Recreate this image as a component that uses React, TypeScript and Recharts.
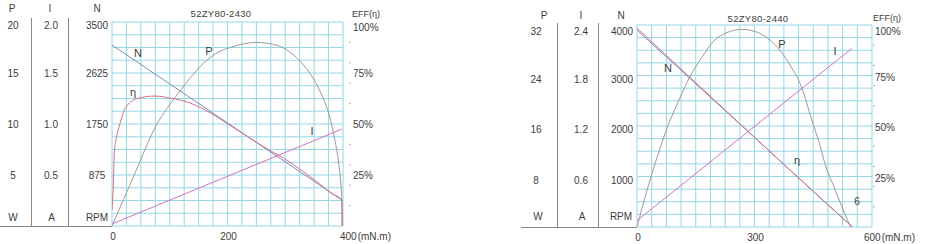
import React from 'react';
import { LineChart, Line, XAxis, YAxis, CartesianGrid } from 'recharts';

const FONT = '"Liberation Sans", Arial, Helvetica, sans-serif';
const TEXT = '#3c3c3c';
const GRID = '#95d6e7';
const C_N = '#7e8cb0';
const C_P = '#9a9a9a';
const C_ETA = '#d46f88';
const C_I = '#cf73c5';

// ---------- shared efficiency axis ----------
const effTicks = [25, 50, 75, 100];
const effLabels = ['25%', '50%', '75%', '100%'];
const effMinor = [10, 20, 30, 40, 60, 70, 80, 90];

// ---------- 52ZY80-2430 ----------
const torqueTicksA = [0, 200, 400];
const torqueLabelsA = ['0', '200', '400'];
const rpmTicksA = [875, 1750, 2625, 3500];
const rpmLabelsA = ['875', '1750', '2625', '3500'];
const powerLabelsA = ['5', '10', '15', '20'];
const currentLabelsA = ['0.5', '1.0', '1.5', '2.0'];

const speedA = [
  { t: 0, v: 3105 },
  { t: 398, v: 446 },
];
const powerA = [
  { t: 0, v: 0 },
  { t: 40, v: 5.2 },
  { t: 77, v: 9.9 },
  { t: 95, v: 11.5 },
  { t: 120, v: 13.4 },
  { t: 152, v: 15.6 },
  { t: 180, v: 16.9 },
  { t: 210, v: 17.6 },
  { t: 250, v: 18.0 },
  { t: 280, v: 17.8 },
  { t: 302, v: 17.3 },
  { t: 325, v: 16.2 },
  { t: 348, v: 14.5 },
  { t: 365, v: 12.6 },
  { t: 377, v: 10.7 },
  { t: 386, v: 8.4 },
  { t: 392, v: 6.4 },
  { t: 396, v: 4.3 },
  { t: 398, v: 2.5 },
  { t: 398.5, v: 0 },
];
const effA = [
  { t: 0, v: 7.8 },
  { t: 2.2, v: 19.3 },
  { t: 4, v: 35.6 },
  { t: 8, v: 43.8 },
  { t: 14, v: 50.3 },
  { t: 22.5, v: 57.5 },
  { t: 45, v: 62.6 },
  { t: 74, v: 63.7 },
  { t: 103, v: 62.6 },
  { t: 132, v: 60.6 },
  { t: 161, v: 56.9 },
  { t: 195, v: 51.1 },
  { t: 253, v: 40.5 },
  { t: 311, v: 30.7 },
  { t: 351, v: 22.5 },
  { t: 380, v: 16.0 },
  { t: 398, v: 12.7 },
  { t: 398.6, v: 0 },
];
const currentA = [
  { t: 0, v: 0.02 },
  { t: 398, v: 0.95 },
];

// ---------- 52ZY80-2440 ----------
const torqueTicksB = [0, 300, 600];
const torqueLabelsB = ['0', '300', '600'];
const rpmTicksB = [1000, 2000, 3000, 4000];
const rpmLabelsB = ['1000', '2000', '3000', '4000'];
const powerLabelsB = ['8', '16', '24', '32'];
const currentLabelsB = ['0.6', '1.2', '1.8', '2.4'];

const speedB = [
  { t: 0, v: 3900 },
  { t: 550, v: 0 },
];
const powerB = [
  { t: 0, v: 0 },
  { t: 25, v: 5.7 },
  { t: 50, v: 10.8 },
  { t: 80, v: 16.2 },
  { t: 110, v: 20.5 },
  { t: 135, v: 23.8 },
  { t: 165, v: 26.8 },
  { t: 195, v: 29.4 },
  { t: 230, v: 30.8 },
  { t: 267, v: 31.3 },
  { t: 300, v: 31.0 },
  { t: 340, v: 29.6 },
  { t: 365, v: 28.0 },
  { t: 395, v: 25.2 },
  { t: 420, v: 22.2 },
  { t: 446, v: 17.0 },
  { t: 465, v: 13.4 },
  { t: 484, v: 9.2 },
  { t: 500, v: 6.8 },
  { t: 514, v: 4.6 },
  { t: 530, v: 2.2 },
  { t: 545, v: 0 },
];
const effB = [
  { t: 0, v: 98.5 },
  { t: 150, v: 71.4 },
  { t: 300, v: 44.4 },
  { t: 450, v: 17.6 },
  { t: 550, v: 0 },
];
const currentB = [
  { t: 0, v: 0.075 },
  { t: 548, v: 2.12 },
];

const range = (end: number, step: number) => {
  const out: number[] = [];
  for (let i = 0; i * step <= end + 1e-9; i++) out.push(i * step);
  return out;
};

type Pt = { t: number; v: number };
type Cfg = {
  left: number;
  width: number;
  top: number;
  xHeight: number;
  yWidth: number;
  rightWidth: number;
  tMax: number;
  nMax: number;
  pMax: number;
  iMax: number;
  torqueTicks: number[];
  torqueLabels: string[];
  rpmTicks: number[];
  rpmLabels: string[];
  powerLabels: string[];
  currentLabels: string[];
  colP: number;
  colI: number;
  colN: number;
  labelShift: number;
  topShiftN: number;
  effX: number;
  effShift: number;
  topShiftEff: number;
  dashX: number;
  unitDx: number;
  speed: Pt[];
  power: Pt[];
  eff: Pt[];
  current: Pt[];
};

const cfgA: Cfg = {
  left: 0,
  width: 420,
  top: 22,
  xHeight: 18,
  yWidth: 112,
  rightWidth: 77,
  tMax: 400,
  nMax: 3500,
  pMax: 20,
  iMax: 2.0,
  torqueTicks: torqueTicksA,
  torqueLabels: torqueLabelsA,
  rpmTicks: rpmTicksA,
  rpmLabels: rpmLabelsA,
  powerLabels: powerLabelsA,
  currentLabels: currentLabelsA,
  colP: 13,
  colI: 51,
  colN: 97,
  labelShift: 0.5,
  topShiftN: 2.5,
  effX: 353,
  effShift: 0.5,
  topShiftEff: 5,
  dashX: 349,
  unitDx: -3,
  speed: speedA,
  power: powerA,
  eff: effA,
  current: currentA,
};

const cfgB: Cfg = {
  left: 520,
  width: 407,
  top: 25,
  xHeight: 17,
  yWidth: 117,
  rightWidth: 55,
  tMax: 600,
  nMax: 4000,
  pMax: 32,
  iMax: 2.4,
  torqueTicks: torqueTicksB,
  torqueLabels: torqueLabelsB,
  rpmTicks: rpmTicksB,
  rpmLabels: rpmLabelsB,
  powerLabels: powerLabelsB,
  currentLabels: currentLabelsB,
  colP: 16,
  colI: 61,
  colN: 102,
  labelShift: 3.5,
  topShiftN: 2.5,
  effX: 355,
  effShift: 1.5,
  topShiftEff: 4.5,
  dashX: 353,
  unitDx: -8,
  speed: speedB,
  power: powerB,
  eff: effB,
  current: currentB,
};

const txt = { fontFamily: FONT, fontSize: 10, fill: TEXT } as const;

const LeftTick = (props: any) => {
  const { y, payload, cfg } = props;
  const idx = cfg.rpmTicks.indexOf(payload.value);
  if (idx < 0) return <g />;
  const yy = y + cfg.labelShift + (payload.value === cfg.nMax ? cfg.topShiftN : 0);
  return (
    <g>
      <text {...txt} x={cfg.colP} y={yy} dy="0.35em" textAnchor="middle">
        {cfg.powerLabels[idx]}
      </text>
      <text {...txt} x={cfg.colI} y={yy} dy="0.35em" textAnchor="middle">
        {cfg.currentLabels[idx]}
      </text>
      <text {...txt} x={cfg.colN} y={yy} dy="0.35em" textAnchor="middle">
        {cfg.rpmLabels[idx]}
      </text>
    </g>
  );
};

const RightTick = (props: any) => {
  const { y, payload, cfg } = props;
  const v = payload.value;
  const idx = effTicks.indexOf(v);
  if (idx >= 0) {
    const yy = y + cfg.effShift + (v === 100 ? cfg.topShiftEff : 0);
    return (
      <text {...txt} x={cfg.effX} y={yy} dy="0.35em" textAnchor="start">
        {effLabels[idx]}
      </text>
    );
  }
  if (effMinor.indexOf(v) >= 0) {
    return <line x1={cfg.dashX} x2={cfg.dashX + 2} y1={y} y2={y} stroke="#b5b5b5" strokeWidth={1} />;
  }
  return <g />;
};

const XTick = (props: any) => {
  const { x, payload, cfg } = props;
  const idx = cfg.torqueTicks.indexOf(payload.value);
  if (idx < 0) return <g />;
  const y = 244 - cfg.xHeight + 14;
  if (idx === cfg.torqueTicks.length - 1) {
    return (
      <text {...txt} x={x + cfg.unitDx} y={y} textAnchor="start">
        {cfg.torqueLabels[idx]}
        <tspan dx="1">(mN.m)</tspan>
      </text>
    );
  }
  return (
    <text {...txt} x={x + 1} y={y} textAnchor="middle">
      {cfg.torqueLabels[idx]}
    </text>
  );
};

function Panel({ cfg }: { cfg: Cfg }) {
  const effAxisTicks = [...effMinor, ...effTicks].sort((a, b) => a - b);
  return (
    <div style={{ position: 'absolute', left: cfg.left, top: 0 }}>
      <LineChart width={cfg.width} height={244} margin={{ top: cfg.top, right: 0, bottom: 0, left: 0 }}>
        <CartesianGrid stroke={GRID} strokeWidth={1} yAxisId="n" />
        <XAxis
          dataKey="t"
          type="number"
          domain={[0, cfg.tMax]}
          ticks={range(cfg.tMax, cfg.tMax / 16)}
          interval={0}
          height={cfg.xHeight}
          tickLine={false}
          axisLine={false}
          allowDataOverflow
          tick={(p: any) => <XTick {...p} cfg={cfg} />}
        />
        <YAxis
          yAxisId="n"
          orientation="left"
          type="number"
          domain={[0, cfg.nMax]}
          ticks={range(cfg.nMax, cfg.nMax / 16)}
          interval={0}
          width={cfg.yWidth}
          tickLine={false}
          axisLine={false}
          allowDataOverflow
          tick={(p: any) => <LeftTick {...p} cfg={cfg} />}
        />
        <YAxis
          yAxisId="eff"
          orientation="right"
          type="number"
          domain={[0, 100]}
          ticks={effAxisTicks}
          interval={0}
          width={cfg.rightWidth}
          tickLine={false}
          axisLine={false}
          allowDataOverflow
          tick={(p: any) => <RightTick {...p} cfg={cfg} />}
        />
        <YAxis yAxisId="p" hide type="number" domain={[0, cfg.pMax]} allowDataOverflow />
        <YAxis yAxisId="i" hide type="number" domain={[0, cfg.iMax]} allowDataOverflow />
        <Line yAxisId="n" data={cfg.speed} dataKey="v" type="linear" stroke={C_N} strokeWidth={1} dot={false} isAnimationActive={false} />
        <Line yAxisId="p" data={cfg.power} dataKey="v" type="monotone" stroke={C_P} strokeWidth={1} dot={false} isAnimationActive={false} />
        <Line yAxisId="eff" data={cfg.eff} dataKey="v" type="monotone" stroke={C_ETA} strokeWidth={1} dot={false} isAnimationActive={false} />
        <Line yAxisId="i" data={cfg.current} dataKey="v" type="linear" stroke={C_I} strokeWidth={1} dot={false} isAnimationActive={false} />
      </LineChart>
    </div>
  );
}

const T = (p: { x: number; y: number; s?: number; a?: 'start' | 'middle' | 'end'; children: React.ReactNode; ls?: number }) => (
  <text
    x={p.x}
    y={p.y}
    dy="0.35em"
    textAnchor={p.a || 'middle'}
    fontFamily={FONT}
    fontSize={p.s || 10}
    fill={TEXT}
    letterSpacing={p.ls || 0}
  >
    {p.children}
  </text>
);

function Overlay() {
  const lineStyle = { stroke: '#8a8a8a', strokeWidth: 1 };
  return (
    <svg width={927} height={244} style={{ position: 'absolute', left: 0, top: 0, pointerEvents: 'none' }}>
      {/* left panel furniture */}
      <line x1={31.5} x2={31.5} y1={18} y2={226.5} {...lineStyle} />
      <line x1={68.5} x2={68.5} y1={18} y2={226.5} {...lineStyle} />
      <line x1={0} x2={112} y1={226.5} y2={226.5} {...lineStyle} />
      <T x={12} y={8.5}>P</T>
      <T x={50} y={8.5}>I</T>
      <T x={97} y={8.5}>N</T>
      <T x={13} y={217}>W</T>
      <T x={51.5} y={217}>A</T>
      <T x={97} y={217}>RPM</T>
      <T x={221} y={14} s={9.5} ls={0.3}>52ZY80-2430</T>
      <T x={352} y={14} s={9} a="start">EFF(η)</T>
      <T x={138} y={53} s={11}>N</T>
      <T x={209} y={51} s={11}>P</T>
      <T x={133} y={92} s={11}>η</T>
      <T x={312} y={131} s={11}>I</T>

      {/* right panel furniture */}
      <line x1={557.5} x2={557.5} y1={23} y2={227.5} {...lineStyle} />
      <line x1={598.5} x2={598.5} y1={23} y2={227.5} {...lineStyle} />
      <line x1={521} x2={637} y1={227.5} y2={227.5} {...lineStyle} />
      <T x={544} y={15}>P</T>
      <T x={581} y={15}>I</T>
      <T x={621} y={15}>N</T>
      <T x={538} y={216}>W</T>
      <T x={582} y={216}>A</T>
      <T x={621} y={216}>RPM</T>
      <T x={758} y={19} s={9.5} ls={0.3}>52ZY80-2440</T>
      <T x={873} y={18} s={9} a="start">EFF(η)</T>
      <T x={668} y={68} s={11}>N</T>
      <T x={782} y={44} s={11}>P</T>
      <T x={835} y={51} s={11}>I</T>
      <T x={797} y={160} s={11}>η</T>
      <T x={857} y={201} s={10}>6</T>
    </svg>
  );
}

export default function App() {
  return (
    <div style={{ position: 'absolute', left: 0, top: 0, width: 927, height: 244, background: '#fff', overflow: 'hidden' }}>
      <Panel cfg={cfgA} />
      <Panel cfg={cfgB} />
      <Overlay />
    </div>
  );
}
